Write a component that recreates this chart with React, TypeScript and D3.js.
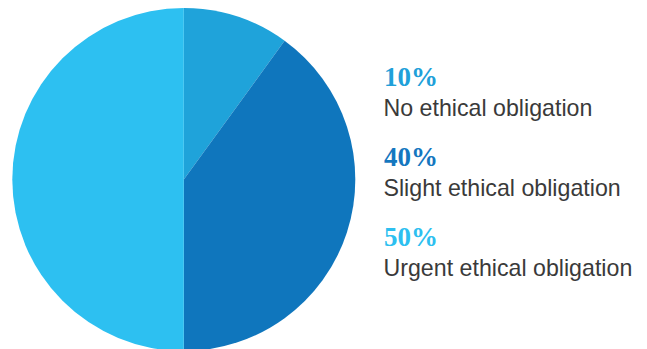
import React from "react";
import * as d3 from "d3";

const categories = ["No ethical obligation", "Slight ethical obligation", "Urgent ethical obligation"];
const values = [10, 40, 50];
const colors = ["#1fa3da", "#0f76bd", "#2dc0f1"];
const textColors = ["#20a0d9", "#1577bf", "#2dbff0"];

export default function App() {
  const W = 647, H = 349;
  const cx = 183.8, cy = 179.5, r = 171.5;
  const pie = d3.pie<number>().sort(null).startAngle(0).endAngle(2 * Math.PI);
  const arcs = pie(values);
  const arc = d3.arc<d3.PieArcDatum<number>>().innerRadius(0).outerRadius(r);
  const y = d3.scaleLinear().domain([0, 1]).range([86, 166]);
  return (
    <svg width={W} height={H} style={{ position: "absolute", left: 0, top: 0, background: "#fff" }}>
      <g transform={`translate(${cx},${cy})`}>
        {arcs.map((a, i) => (
          <path key={i} d={arc(a) || ""} fill={colors[i]} />
        ))}
      </g>
      {categories.map((c, i) => (
        <g key={c}>
          <text x={384} y={y(i)} fontFamily="'Liberation Serif', serif" fontWeight="bold" fontSize={27} fill={textColors[i]}>
            {values[i]}%
          </text>
          <text x={383.5} y={y(i) + 30} fontFamily="'Liberation Sans', Arial, sans-serif" fontSize={23.2} fill="#3a3a3a">
            {c}
          </text>
        </g>
      ))}
    </svg>
  );
}
